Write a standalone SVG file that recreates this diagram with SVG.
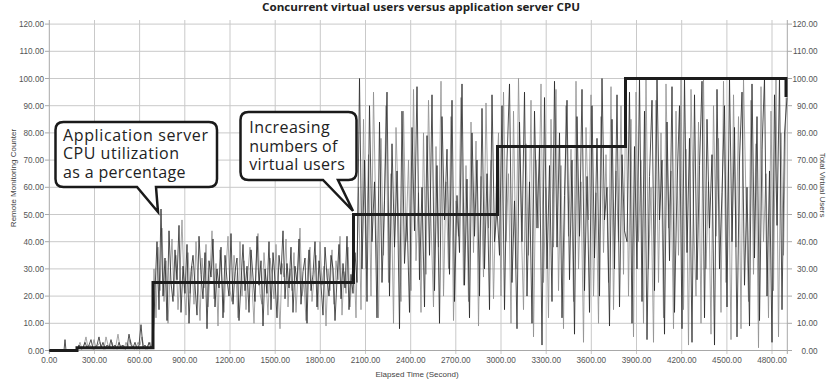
<svg xmlns="http://www.w3.org/2000/svg" width="828" height="381" viewBox="0 0 828 381">
<style>
.grid{stroke:#c9c9c9;stroke-width:1;fill:none}
.axis{stroke:#a8a8a8;stroke-width:1;fill:none}
.tick{font-family:"Liberation Sans",Arial,sans-serif;font-size:8.2px;fill:#555}
.lbl{font-family:"Liberation Sans",Arial,sans-serif;font-size:8px;fill:#444}
.title{font-family:"Open Sans","Noto Sans",sans-serif;font-size:11px;font-weight:700;fill:#222}
.g{fill:none;stroke:#8e8e8e;stroke-width:0.8;stroke-linejoin:round}
.k{fill:none;stroke:#262626;stroke-width:0.8;stroke-linejoin:round}
.users{fill:none;stroke:#1c1c1c;stroke-width:3;stroke-linejoin:miter}
.bubble{fill:#fff;stroke:#1a1a1a;stroke-width:2.5;stroke-linejoin:miter}
.ctext{font-family:"Open Sans","Noto Sans",sans-serif;font-size:16px;fill:#222}
</style>
<rect width="828" height="381" fill="#fff"/>
<text class="title" x="421" y="11" text-anchor="middle" textLength="318" lengthAdjust="spacingAndGlyphs">Concurrent virtual users versus application server CPU</text>
<g id="grid">
<path class="grid" d="M49.3,24.1H787.3M49.3,51.3H787.3M49.3,78.5H787.3M49.3,105.7H787.3M49.3,132.9H787.3M49.3,160.1H787.3M49.3,187.3H787.3M49.3,214.5H787.3M49.3,241.7H787.3M49.3,268.9H787.3M49.3,296.1H787.3M49.3,323.3H787.3"/>
<path class="grid" d="M94.5,20V354M139.6,20V354M184.8,20V354M230,20V354M275.2,20V354M320.3,20V354M365.5,20V354M410.7,20V354M455.8,20V354M501,20V354M546.2,20V354M591.3,20V354M636.5,20V354M681.7,20V354M726.9,20V354M772,20V354"/>
<path class="axis" d="M49.3,20V354M787.3,20V354M45,350.5H792M45,323.3H49.3M45,296.1H49.3M45,268.9H49.3M45,241.7H49.3M45,214.5H49.3M45,187.3H49.3M45,160.1H49.3M45,132.9H49.3M45,105.7H49.3M45,78.5H49.3M45,51.3H49.3M45,24.1H49.3M787.3,323.3H792M787.3,296.1H792M787.3,268.9H792M787.3,241.7H792M787.3,214.5H792M787.3,187.3H792M787.3,160.1H792M787.3,132.9H792M787.3,105.7H792M787.3,78.5H792M787.3,51.3H792M787.3,24.1H792"/>
</g>
<g id="y-left-labels" class="tick" text-anchor="end">
<text x="44" y="353.5">0.00</text><text x="44" y="326.3">10.00</text><text x="44" y="299.1">20.00</text><text x="44" y="271.9">30.00</text><text x="44" y="244.7">40.00</text><text x="44" y="217.5">50.00</text><text x="44" y="190.3">60.00</text><text x="44" y="163.1">70.00</text><text x="44" y="135.9">80.00</text><text x="44" y="108.7">90.00</text><text x="44" y="81.5">100.00</text><text x="44" y="54.3">110.00</text><text x="44" y="27.1">120.00</text>
</g>
<g id="y-right-labels" class="tick" text-anchor="end">
<text x="817.5" y="353.5">0.00</text><text x="817.5" y="326.3">10.00</text><text x="817.5" y="299.1">20.00</text><text x="817.5" y="271.9">30.00</text><text x="817.5" y="244.7">40.00</text><text x="817.5" y="217.5">50.00</text><text x="817.5" y="190.3">60.00</text><text x="817.5" y="163.1">70.00</text><text x="817.5" y="135.9">80.00</text><text x="817.5" y="108.7">90.00</text><text x="817.5" y="81.5">100.00</text><text x="817.5" y="54.3">110.00</text><text x="817.5" y="27.1">120.00</text>
</g>
<g id="x-labels" class="tick" text-anchor="middle">
<text x="49.3" y="363">0.00</text><text x="94.5" y="363">300.00</text><text x="139.6" y="363">600.00</text><text x="184.8" y="363">900.00</text><text x="230" y="363">1200.00</text><text x="275.2" y="363">1500.00</text><text x="320.3" y="363">1800.00</text><text x="365.5" y="363">2100.00</text><text x="410.7" y="363">2400.00</text><text x="455.8" y="363">2700.00</text><text x="501" y="363">3000.00</text><text x="546.2" y="363">3300.00</text><text x="591.3" y="363">3600.00</text><text x="636.5" y="363">3900.00</text><text x="681.7" y="363">4200.00</text><text x="726.9" y="363">4500.00</text><text x="772" y="363">4800.00</text>
</g>
<text class="lbl" x="417" y="377" text-anchor="middle">Elapsed Time (Second)</text>
<text class="lbl" transform="translate(15.5,178) rotate(-90)" text-anchor="middle">Remote Monitoring Counter</text>
<text class="lbl" transform="translate(819.5,185) rotate(90)" text-anchor="middle">Total Virtual Users</text>
<g id="connectors">
<g id="cpu" transform="translate(0,350.5) scale(1,-2.72)">
<path class="g" vector-effect="non-scaling-stroke" d="M49,0H76"/>
<path class="k" vector-effect="non-scaling-stroke" d="M49,0H64L65,4L66,0H77"/>
<g transform="translate(76,0) scale(2,1)"><polyline class="g" vector-effect="non-scaling-stroke" points="0,0 1,1 2,3 3,0.5 4,2 5,5 6,1 7,2 8,0.5 9,4 10,1 11,2 12,3 13,1 14,0.5 15,5 16,2 17,1 18,3 19,0.5 20,2 21,6 22,1 23,2 24,0.5 25,3 26,1 27,4 28,2 29,0.5 30,1 31,3 32,2 33,5 34,1 35,0.5 36,2 37,3 38,1"/></g>
<g transform="translate(152,0) scale(2,1)"><polyline class="g" vector-effect="non-scaling-stroke" points="0,1 1,30 2,12 3,38 4,22 5,45 6,18 7,33 8,10 9,27 10,41 11,20 12,35 13,15 14,29 15,48 16,24 17,13 18,36 19,21 20,31 21,17 22,40 23,26 24,11 25,34 26,23 27,39 28,16 29,28 30,44 31,19 32,32 33,9 34,37 35,25 36,14 37,30 38,42 39,22 40,18 41,35 42,27 43,12 44,40 45,20 46,33 47,15 48,29 49,38 50,24 51,10 52,31 53,43 54,21 55,17 56,36 57,26 58,13 59,34 60,28 61,19 62,39 63,23 64,8 65,32 66,27 67,41 68,16 69,30 70,22 71,36 72,14 73,29 74,45 75,20 76,25 77,11 78,33 79,38 80,18 81,27 82,35 83,15 84,40 85,24 86,31 87,9 88,30 89,22 90,37 91,17 92,33 93,26 94,42 95,13 96,29 97,21 98,38 99,16 100,28 101,34 102,12"/></g>
<g transform="translate(356,0) scale(2.5,1)"><polyline class="g" vector-effect="non-scaling-stroke" points="0,12 1,60 2,15 3,85 4,30 5,72 6,20 7,95 8,45 9,12 10,78 11,35 12,90 13,25 14,65 15,10 16,82 17,50 18,18 19,88 20,40 21,70 22,22 23,96 24,33 25,58 26,14 27,80 28,28 29,92 30,48 31,16 32,75 33,38 34,99 35,20 36,62 37,30 38,86 39,11 40,55 41,42 42,93 43,24 44,68 45,18 46,84 47,36 48,77 49,9 50,64 51,27 52,91 53,45 54,70 55,19 56,58"/></g>
<g transform="translate(496,0) scale(2.5,1)"><polyline class="g" vector-effect="non-scaling-stroke" points="0,58 1,80 2,20 3,95 4,40 5,65 6,10 7,88 8,30 9,100 10,50 11,15 12,76 13,35 14,92 15,5 16,70 17,45 18,98 19,25 20,60 21,12 22,85 23,38 24,96 25,22 26,68 27,8 28,90 29,42 30,74 31,18 32,99 33,30 34,62 35,3 36,82 37,48 38,94 39,20 40,58 41,10 42,86 43,36 44,72 45,25 46,97 47,15 48,66 49,40 50,90 51,28"/></g>
<g transform="translate(623.5,0) scale(2.5,1)"><polyline class="g" vector-effect="non-scaling-stroke" points="0,28 1,100 2,20 3,85 4,5 5,95 6,40 7,70 8,10 9,100 10,30 11,60 12,3 13,92 14,25 15,80 16,12 17,98 18,45 19,66 20,8 21,88 22,35 23,100 24,15 25,74 26,2 27,96 28,50 29,20 30,84 31,10 32,100 33,30 34,62 35,6 36,90 37,42 38,78 39,14 40,99 41,25 42,70 43,4 44,94 45,38 46,86 47,8 48,100 49,55 50,18 51,92 52,28 53,76 54,1 55,97 56,40 57,65 58,12 59,88 60,22 61,100 62,5 63,80 64,35 65,93"/></g>
<g transform="translate(77,0) scale(2,1)"><polyline class="k" vector-effect="non-scaling-stroke" points="0,0 1,2 2,0.5 3,1 4,3 5,1 6,2 7,4 8,0.5 9,1 10,2 11,5 12,1 13,3 14,0.5 15,2 16,1 17,4 18,1 19,2 20,0.5 21,3 22,1 23,2 24,0.5 25,1 26,6 27,2 28,1 29,3 30,0.5 31,2 32,9.5 33,1 34,2 35,0.5 36,3 37,1 38,2"/></g>
<g transform="translate(153,0) scale(2,1)"><polyline class="k" vector-effect="non-scaling-stroke" points="0,2 1,22 2,40 3,15 4,52 5,20 6,34 7,11 8,44 9,25 10,18 11,37 12,26 13,46 14,14 15,31 16,21 17,39 18,10 19,29 20,35 21,24 22,13 23,42 24,28 25,19 26,36 27,8 28,33 29,27 30,41 31,16 32,30 33,23 34,38 35,12 36,35 37,26 38,20 39,43 40,17 41,29 42,34 43,11 44,25 45,39 46,22 47,31 48,14 49,37 50,27 51,18 52,42 53,24 54,33 55,9 56,30 57,21 58,40 59,15 60,36 61,26 62,12 63,35 64,28 65,44 66,19 67,32 68,23 69,38 70,14 71,31 72,25 73,41 74,17 75,29 76,34 77,10 78,37 79,22 80,28 81,40 82,16 83,33 84,24 85,13 86,38 87,27 88,20 89,35 90,30 91,11 92,26 93,39 94,19 95,32 96,23 97,42 98,15 99,28 100,21 101,36 102,25"/></g>
<g transform="translate(357,0) scale(2.5,1)"><polyline class="k" vector-effect="non-scaling-stroke" points="0,25 1,100 2,30 3,70 4,18 5,90 6,40 7,62 8,12 9,84 10,25 11,55 12,95 13,20 14,76 15,38 16,66 17,8 18,88 19,32 20,50 21,14 22,82 23,44 24,97 25,26 26,60 27,16 28,79 29,35 30,94 31,22 32,68 33,10 34,86 35,48 36,74 37,28 38,92 39,18 40,57 41,36 42,98 43,24 44,63 45,12 46,80 47,42 48,70 49,20 50,89 51,30 52,65 53,15 54,94 55,40 56,52"/></g>
<g transform="translate(497,0) scale(2.5,1)"><polyline class="k" vector-effect="non-scaling-stroke" points="0,52 1,35 2,90 3,15 4,70 5,98 6,25 7,55 8,8 9,84 10,40 11,95 12,20 13,62 14,10 15,88 16,45 17,75 18,2 19,93 20,30 21,68 22,18 23,99 24,38 25,80 26,12 27,57 28,92 29,26 30,70 31,6 32,86 33,42 34,96 35,22 36,64 37,14 38,90 39,34 40,78 41,20 42,100 43,48 44,60 45,9 46,85 47,30 48,94 49,16 50,72 51,44"/></g>
<g transform="translate(624.5,0) scale(2.5,1)"><polyline class="k" vector-effect="non-scaling-stroke" points="0,44 1,40 2,95 3,10 4,75 5,30 6,100 7,18 8,88 9,4 10,64 11,92 12,22 13,100 14,48 15,70 16,6 17,84 18,33 19,97 20,14 21,60 22,90 23,8 24,100 25,36 26,78 27,3 28,94 29,26 30,68 31,99 32,12 33,85 34,45 35,72 36,2 37,96 38,30 39,58 40,90 41,16 42,100 43,40 44,82 45,5 46,70 47,95 48,24 49,60 50,9 51,98 52,34 53,86 54,11 55,74 56,100 57,20 58,66 59,3 60,94 61,46 62,100 63,15 64,80 65,93"/></g>
</g>
<path class="users" d="M49.3,350.5H77V347.8H153V282.5H353.5V214.5H497.5V146.5H625.5V78.5H786V97"/>
</g>
<g id="callout-cpu">
<path class="bubble" d="M63.5,122H209Q217,122 217,130V179Q217,187 209,187H156L158,212L137,187H63.5Q55.5,187 55.5,179V130Q55.5,122 63.5,122Z"/>
<text class="ctext" x="63" y="141" textLength="145">Application server</text>
<text class="ctext" x="63" y="159.3" textLength="116">CPU utilization</text>
<text class="ctext" x="63" y="177.5" textLength="122.5">as a percentage</text>
</g>
<g id="callout-users">
<path class="bubble" d="M248.5,112H348.5Q356.5,112 356.5,120V172Q356.5,180 348.5,180H338L353,211L323,180H248.5Q240.5,180 240.5,172V120Q240.5,112 248.5,112Z"/>
<text class="ctext" x="249.3" y="133.3" textLength="80.5">Increasing</text>
<text class="ctext" x="249.3" y="151.7" textLength="88">numbers of</text>
<text class="ctext" x="249.3" y="170" textLength="95.5">virtual users</text>
</g>
</svg>
